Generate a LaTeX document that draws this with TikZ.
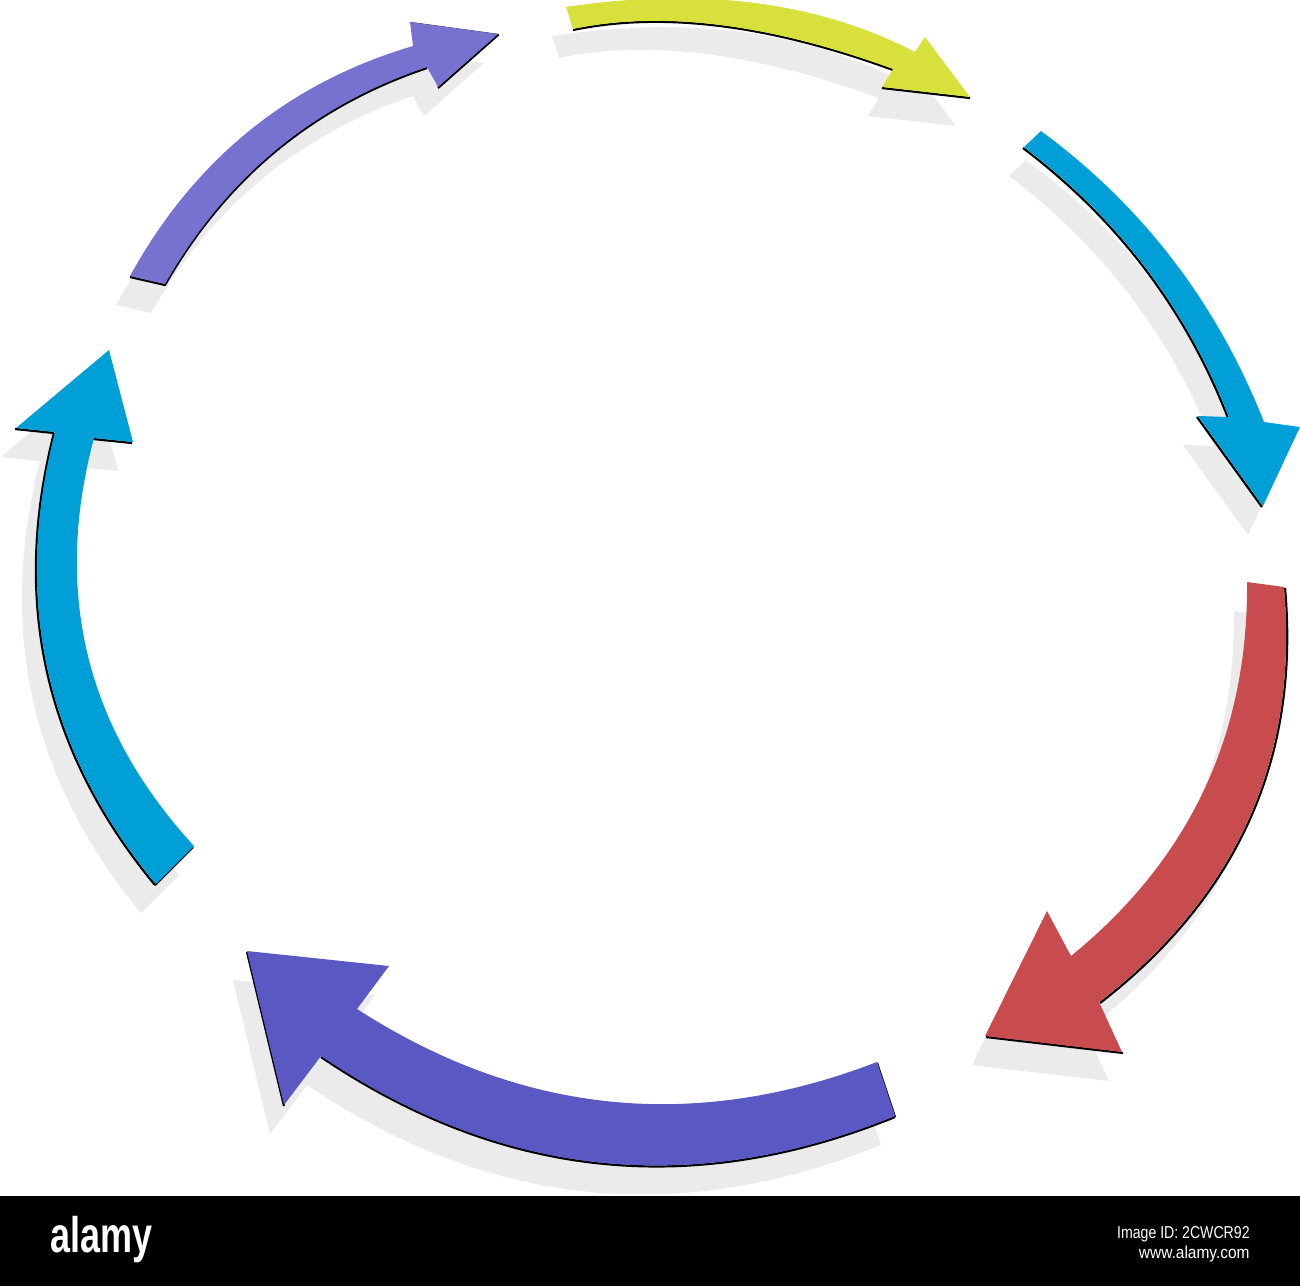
\documentclass[tikz,border=0pt]{standalone}
\usepackage{fontspec}
\usetikzlibrary{calc}
\newfontfamily\lsans{Liberation Sans}
\definecolor{cyel}{RGB}{216,224,60}
\definecolor{cpur}{RGB}{119,114,208}
\definecolor{cblue}{RGB}{0,159,216}
\definecolor{cred}{RGB}{200,75,78}
\definecolor{cviol}{RGB}{90,88,195}
\definecolor{cshad}{RGB}{235,235,235}
\tikzset{
  shad/.style={fill=cshad, shift={(-14,28)}},
  edge/.style={draw=black, line width=1.1pt, line join=round},
}
% curve from #1 through #2 (its middle) to #3
\newcommand\thru[3]{.. controls ($1.33333*(#2)-0.33333*(#3)$) and ($1.33333*(#2)-0.33333*(#1)$) .. (#3)}
% yellow
\def\Ypath{(566,8) \thru{566,8}{755,4}{915,53} -- (925,38) -- (970,98) -- (882,88) -- (893,70) \thru{893,70}{720,26}{573,30} -- cycle}
% purple
\def\Ppath{(130,277) \thru{130,277}{249,132}{413,47} -- (410,23) -- (498,35) -- (438,88) -- (427,68) \thru{427,68}{276,151}{165,285} -- cycle}
% right blue
\def\Bpath{(1040,132) \thru{1040,132}{1172,261}{1263,423} -- (1299,428) -- (1262,507) -- (1197,417) -- (1228,418) \thru{1228,418}{1145,269}{1023,148} -- cycle}
% red
\def\Rpath{(1285,588) \thru{1285,588}{1250,819}{1100,1003} -- (1123,1053) -- (986,1037) -- (1048,912) -- (1072,957) \thru{1072,957}{1205,791}{1248,583} -- cycle}
% bottom violet
\def\Vpath{(895,1117) \thru{895,1117}{600,1163.5}{321,1057} -- (284,1106) -- (247,952) -- (389,967) -- (357,1010) \thru{357,1010}{610,1102.5}{877,1063} -- cycle}
% left blue
\def\Lpath{(155,885) \thru{155,885}{47,672}{54,433} -- (15,429) -- (108,351) -- (132,443) -- (93,439) \thru{93,439}{87,657}{193,847} -- cycle}
\begin{document}
\begin{tikzpicture}[x=0.5pt,y=-0.5pt]
\useasboundingbox (0,0) rectangle (1300,1286);
\fill[white] (0,0) rectangle (1300,1286);
% shadows
\fill[shad] \Ypath;
\fill[shad] \Ppath;
\fill[shad] \Bpath;
\fill[shad] \Rpath;
\fill[shad] \Vpath;
\fill[shad] \Lpath;
% thin black rims (under the fills)
\draw[edge] (893,70) \thru{893,70}{720,26}{573,30} (882,88) -- (970,98);
\draw[edge] (427,68) \thru{427,68}{276,151}{165,285} -- (130,277) (438,88) -- (498,35) -- (410,23);
\draw[edge] (1228,418) \thru{1228,418}{1145,269}{1023,148} (1197,417) -- (1262,507);
\draw[edge] (1285,588) \thru{1285,588}{1250,819}{1100,1003} (986,1037) -- (1123,1053);
\draw[edge] (895,1117) \thru{895,1117}{600,1163.5}{321,1057} (284,1106) -- (247,952) (895,1117) -- (877,1063);
\draw[edge] (155,885) \thru{155,885}{47,672}{54,433} (15,429) -- (54,433) (93,439) -- (132,443) (155,885) -- (193,847);
% arrows
\fill[cyel, shift={(0,-1)}] \Ypath;
\fill[cpur, shift={(0,-1)}] \Ppath;
\fill[cblue, shift={(1,-1)}] \Bpath;
\fill[cred, shift={(-1,-1)}] \Rpath;
\fill[cviol, shift={(0,-1)}] \Vpath;
\fill[cblue, shift={(1,-1)}] \Lpath;
% bottom bar
\fill[black] (0,1196) rectangle (1300,1286);
\node[anchor=base west, inner sep=0, text=white, font=\lsans\bfseries\fontsize{25}{25}\selectfont] (logo) at (50,1252) {\scalebox{0.72}[1]{alamy}};
\node[anchor=base east, inner sep=0, text=white, font=\lsans\fontsize{8.6}{9}\selectfont] (imgid) at (1250,1238) {\scalebox{0.82}[1]{Image ID: 2CWCR92}};
\node[anchor=base east, inner sep=0, text=white, font=\lsans\fontsize{8.6}{9}\selectfont] (site) at (1250,1258) {\scalebox{0.9}[1]{www.alamy.com}};
\end{tikzpicture}
\end{document}
